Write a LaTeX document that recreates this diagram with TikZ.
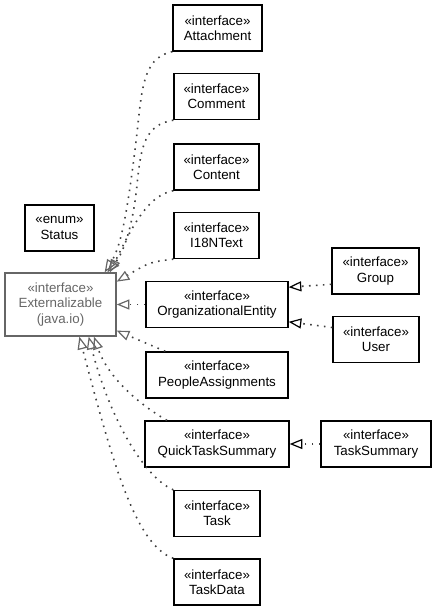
\documentclass[tikz,border=0pt]{standalone}
\usepackage{fontspec}
\setmainfont{Liberation Sans}
\usepackage{tikz}
\usetikzlibrary{arrows.meta}
\tikzstyle{box}=[draw=black,line width=1pt,align=center,minimum height=34.5pt,inner xsep=6pt,font=\fontsize{10pt}{11.5pt}\selectfont]
\tikzstyle{extbox}=[box,draw=black!60,text=black!60,minimum height=47.25pt]
\tikzstyle{dep}=[black!75,line width=1.2pt,dash pattern=on 1.2pt off 4pt,-{Triangle[open,length=9.5pt,width=7.5pt,line width=0.9pt,color=black]}]
\tikzstyle{extdep}=[dep,-{Triangle[open,length=9.5pt,width=7.5pt,line width=0.9pt,color=black!60]}]

\begin{document}
\begin{tikzpicture}[x=0.75pt,y=-0.75pt]
        \useasboundingbox (0,0) rectangle (437,611);
        \node at ( 60.5,304.5) [extbox,minimum width=83.25pt] (ext) {«interface»\\Externalizable\\(java.io)};
        \node at ( 59.5,228) [box,minimum width=51.75pt] (status) {«enum»\\Status};
        \node at (217.5, 28) [box,minimum width=66.75pt] (att) {«interface»\\Attachment};
        \node at (216.5, 96.5) [box,minimum width=63.75pt] (cmt) {«interface»\\Comment};
        \node at (216.5,167) [box,minimum width=63.75pt] (cnt) {«interface»\\Content};
        \node at (216.5,235.5) [box,minimum width=63.75pt] (i18n) {«interface»\\I18NText};
        \node at (217,304.5) [box,minimum width=106.5pt] (org) {«interface»\\OrganizationalEntity};
        \node at (217,375) [box,minimum width=106.5pt] (pa) {«interface»\\PeopleAssignments};
        \node at (217,444) [box,minimum width=108pt] (qts) {«interface»\\QuickTaskSummary};
        \node at (217,513.5) [box,minimum width=64.5pt] (task) {«interface»\\Task};
        \node at (217,582) [box,minimum width=64.5pt] (td) {«interface»\\TaskData};
        \node at (375.5,271) [box,minimum width=65.25pt] (group) {«interface»\\Group};
        \node at (376,339.5) [box,minimum width=64.5pt] (user) {«interface»\\User};
        \node at (376,444) [box,minimum width=82.5pt] (ts) {«interface»\\TaskSummary};
        % realizations of Externalizable
        \draw [extdep] (att.south west) .. controls (140,58) and (142,95) .. (135,150) .. controls (128,205) and (122,245) .. ([xshift=-9pt]ext.north east);
        \draw [extdep] (cmt.south west) .. controls (145,125) and (141,145) .. (137,185) .. controls (133,225) and (124,252) .. ([xshift=-7pt]ext.north east);
        \draw [extdep] (cnt.south west) .. controls (150,195) and (135,220) .. ([xshift=-5pt]ext.north east);
        \draw [extdep] (i18n.south west) .. controls (150,262) .. ([yshift=-7pt]ext.north east);
        \draw [extdep] (org.west) -- (ext.east);
        \draw [extdep] ([xshift=15pt]pa.north west) -- ([yshift=4.5pt]ext.south east);
        \draw [extdep] ([xshift=17pt]qts.north west) .. controls (140,405) and (108,378) .. ([xshift=-17pt]ext.south east);
        \draw [extdep] (task.north west) .. controls (145,478) and (110,420) .. ([xshift=-21pt]ext.south east);
        \draw [extdep] (td.north west) .. controls (135,545) and (112,460) .. ([xshift=-28pt]ext.south east);
        % the other realizations
        \draw [dep] ([yshift=-10pt]group.west) -- ([yshift=13pt]org.east);
        \draw [dep] ([yshift=9pt]user.west) -- ([yshift=-13pt]org.east);
        \draw [dep] (ts.west) -- (qts.east);
      \end{tikzpicture}
\end{document}
